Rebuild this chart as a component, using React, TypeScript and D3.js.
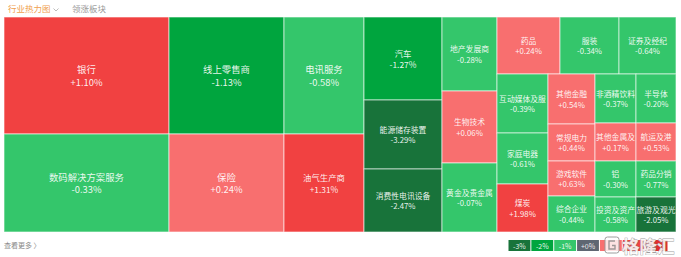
import React from 'react';
import * as d3 from 'd3';

const sectors = ['银行', '线上零售商', '电讯服务', '数码解决方案服务', '保险', '油气生产商', '汽车', '能源储存装置', '消费性电讯设备', '地产发展商', '生物技术', '黄金及贵金属', '药品', '服装', '证券及经纪', '互动媒体及服', '家庭电器', '煤炭', '其他金融', '常规电力', '游戏软件', '综合企业', '非酒精饮料', '其他金属及', '铝', '投资及资产', '半导体', '航运及港', '药品分销', '旅游及观光'];
const changes = [1.10, -1.13, -0.58, -0.33, 0.24, 1.31, -1.27, -3.29, -2.47, -0.28, 0.06, -0.07, 0.24, -0.34, -0.64, -0.39, -0.61, 1.98, 0.54, 0.44, 0.63, -0.44, -0.37, 0.17, -0.30, -0.58, -0.20, 0.53, -0.77, -2.05];
const weights = [19305, 13455, 9360, 16170, 11270, 7840, 6474, 5382, 4914, 4070, 3960, 3795, 3591, 3363, 3249, 3009, 2601, 2448, 2350, 1739, 1645, 1692, 2009, 1558, 1476, 1435, 1960, 1520, 1440, 1400];
const groups: any = [[[0, 1, 2], [3, 4, 5]], [6, 7, 8], [9, 10, 11], [[12, 13, 14], [[15, 16, 17], [18, 19, 20, 21], [22, 23, 24, 25], [26, 27, 28, 29]]]];
const legendTicks = ['-3%', '-2%', '-1%', '+0%', '+1%', '+2%', '+3%'];
const legendColors = ['#18733a', '#00a53e', '#34c66b', '#5f6672', '#f86f6f', '#f14141', '#e02f2f'];

const W = 681, H = 257;
const X0 = 4, Y0 = 17, TW = 672, TH = 215;
const FONT = '"Noto Sans CJK SC", "Noto Sans", sans-serif';

const color = d3.scaleThreshold<number, string>()
  .domain([-2, -1, 0, 1])
  .range(['#18733a', '#00a53e', '#34c66b', '#f86f6f', '#f14141']);

const fmt = (v: number) => (v > 0 ? '+' : v < 0 ? '-' : '+') + Math.abs(v).toFixed(2) + '%';

export default function App() {
  const root = d3.hierarchy<any>(groups, (d: any) => (Array.isArray(d) ? d : null))
    .sum((d: any) => (typeof d === 'number' ? weights[d] : 0));
  d3.treemap<any>().tile(d3.treemapSliceDice).size([TW, TH])(root);
  const leaves = root.leaves() as any[];

  const lx = d3.scaleBand<string>().domain(legendTicks).range([508, 668]).padding(0);

  return (
    <svg width={W} height={H} style={{ position: 'absolute', left: 0, top: 0, background: '#fff' }} fontFamily={FONT}>
      <text x={8} y={12} fontSize={8.5} fill="#f0a04e">行业热力图</text>
      <path d="M53.5 8.5 L56 11 L58.5 8.5" fill="none" stroke="#aaa" strokeWidth={0.8} />
      <text x={72} y={12} fontSize={8.5} fill="#999">领涨板块</text>
      <g transform={`translate(${X0},${Y0})`}>
        {leaves.map((n, i) => {
          const idx = n.data as number;
          const w = n.x1 - n.x0, h = n.y1 - n.y0;
          const s = Math.sqrt(w * h);
          const fs = s >= 90 ? 9.4 : s >= 78 ? 8.4 : 7.8;
          const gap = fs * 1.38;
          const cx = (n.x0 + n.x1) / 2, cy = (n.y0 + n.y1) / 2;
          return (
            <g key={i}>
              <rect x={n.x0} y={n.y0} width={w} height={h} fill={color(changes[idx])}
                stroke="rgba(255,255,255,0.6)" strokeWidth={1} />
              <text x={cx} y={cy - gap / 2} fontSize={fs} fill="rgba(255,255,255,0.92)" textAnchor="middle" dominantBaseline="central">{sectors[idx]}</text>
              <text x={cx} y={cy + gap / 2} fontSize={fs} fill="rgba(255,255,255,0.92)" textAnchor="middle" dominantBaseline="central">{fmt(changes[idx])}</text>
            </g>
          );
        })}
      </g>
      <text x={4} y={248} fontSize={7} fill="#888">查看更多 〉</text>
      {legendTicks.map((t, i) => (
        <g key={t}>
          <rect x={lx(t)! + 0.5} y={240} width={lx.bandwidth() - 1} height={11} fill={legendColors[i]} />
          {i < 4 && (
            <text x={lx(t)! + lx.bandwidth() / 2} y={245.5} fontSize={7} fill="rgba(255,255,255,0.9)" textAnchor="middle" dominantBaseline="central">{t}</text>
          )}
        </g>
      ))}
      <g opacity={0.95}>
        <rect x={605} y={237} width={14} height={16} rx={2.5} fill="rgba(255,255,255,0.85)" stroke="#9a9a9a" strokeWidth={1} />
        <path d="M615 241 L609 241 L609 249 L615 249 L615 245.5 L612 245.5" fill="none" stroke="#9a9a9a" strokeWidth={1.4} />
        <text x={622} y={253} fontSize={17.5} fontWeight="bold" fill="rgba(255,255,255,0.92)" stroke="#9a9a9a" strokeWidth={0.8} style={{ paintOrder: 'stroke' } as any}>格隆汇</text>
      </g>
    </svg>
  );
}
